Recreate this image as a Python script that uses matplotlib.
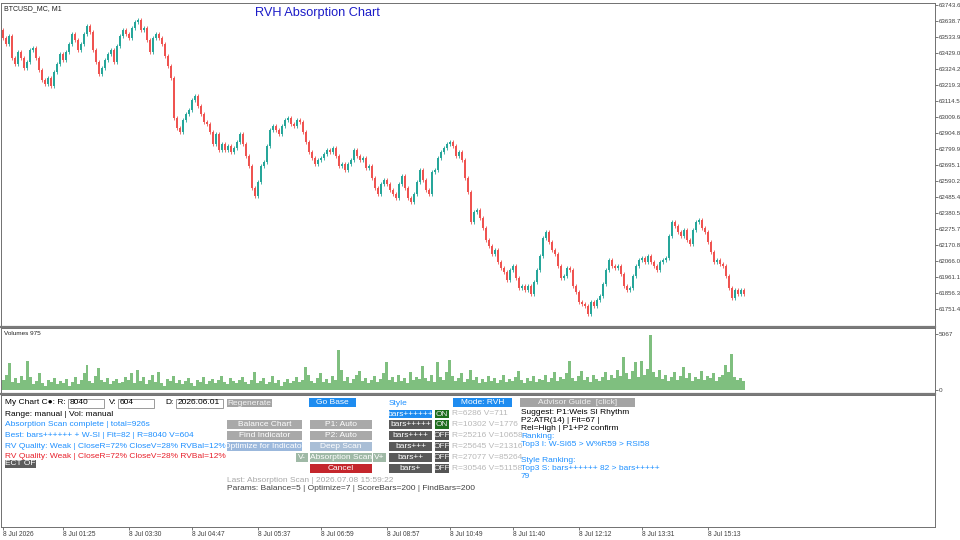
import matplotlib
matplotlib.use("Agg")
import matplotlib.pyplot as plt
from matplotlib.patches import Rectangle
import numpy as np

plt.rcParams['font.family'] = ['Liberation Sans', 'DejaVu Sans']

# --- data (BTCUSD_MC, M1) ---
first_open = 63580
closes = [
    # 0 .. 82
    63527, 63488, 63540, 63396, 63357, 63435, 63396, 63330, 63370, 63448,
    63461, 63396, 63317, 63252, 63226, 63265, 63212, 63304, 63357, 63422,
    63383, 63435, 63488, 63553, 63514, 63448, 63488, 63553, 63606, 63566,
    63448, 63370, 63291, 63330, 63383, 63422, 63448, 63370, 63475, 63540,
    63579, 63553, 63527, 63593, 63632, 63645, 63579, 63593, 63514, 63435,
    63527, 63553, 63527, 63488, 63409, 63344, 63265, 63003, 62937, 62911,
    62990, 63029, 63055, 63121, 63147, 63081, 63029, 62977, 62963, 62911,
    62832, 62898, 62793, 62832, 62793, 62819, 62780, 62806, 62845, 62898,
    62832, 62754, 62688,
    # 83 .. 163
    62544, 62492, 62583, 62688, 62714, 62819, 62924, 62950, 62924, 62898,
    62950, 62990, 63003, 62963, 62950, 62990, 62977, 62911, 62845, 62780,
    62741, 62701, 62728, 62741, 62767, 62793, 62780, 62806, 62754, 62688,
    62701, 62662, 62701, 62728, 62793, 62754, 62728, 62741, 62675, 62688,
    62610, 62544, 62505, 62570, 62596, 62570, 62531, 62505, 62479, 62570,
    62623, 62544, 62479, 62452, 62505, 62583, 62662, 62596, 62531, 62505,
    62649, 62662, 62741, 62780, 62806, 62832, 62845, 62819, 62754, 62780,
    62728, 62610, 62518, 62321, 62387, 62400, 62347, 62282, 62203, 62164,
    62112,
    # 164 .. 247
    62138, 62059, 62020, 61994, 61941, 62007, 62033, 61954, 61889, 61902,
    61876, 61902, 61849, 61928, 62007, 62098, 62216, 62256, 62190, 62138,
    62112, 62033, 61954, 61967, 62020, 62007, 61902, 61863, 61797, 61784,
    61771, 61718, 61797, 61771, 61810, 61836, 61915, 62007, 62072, 62033,
    62020, 62033, 61980, 61902, 61876, 61889, 61967, 62033, 62072, 62085,
    62059, 62098, 62059, 62033, 62007, 62059, 62072, 62085, 62229, 62321,
    62295, 62256, 62229, 62269, 62203, 62177, 62269, 62321, 62334, 62282,
    62256, 62190, 62125, 62059, 62072, 62046, 62033, 61967, 61889, 61823,
    61876, 61849, 61876, 61849,
]
volumes = [
    900, 1400, 2400, 700, 1100, 600, 1300, 900, 2600, 1200, 500, 800, 1500, 600, 400, 900, 700, 1100, 500, 800,
    600, 1000, 400, 700, 1200, 500, 900, 1500, 2300, 800, 600, 1300, 2000, 900, 700, 1100, 500, 800, 1000, 600,
    700, 1200, 900, 1500, 600, 1800, 800, 1200, 500, 900, 1400, 700, 1600, 600, 400, 1000, 800, 1300, 600, 900,
    500, 800, 1100, 600, 400, 900, 700, 1200, 500, 800, 1000, 600, 900, 1300, 700, 500, 1100, 800, 600, 900,
    1200, 700, 500, 900, 1600, 600, 800, 1100, 500, 700, 1300, 600, 900, 400, 700, 1000, 600, 800, 1200, 700,
    900, 2100, 1400, 800, 600, 1100, 1500, 700, 1000, 600, 1300, 900, 3600, 1800, 800, 1200, 600, 1000, 1400, 1700,
    800, 1100, 600, 900, 1300, 700, 1000, 1500, 2500, 900, 1200, 700, 1400, 800, 1100, 600, 1600, 900, 1200, 1000,
    2200, 1100, 800, 1400, 700, 2500, 1200, 900, 1600, 2700, 1300, 800, 1100, 1500, 700, 1000, 1800, 900, 1200, 600,
    1000, 700, 1300, 800, 1100, 600, 900, 1400, 700, 1000, 800, 1200, 1700, 900, 600, 1100, 800, 1300, 700, 1000,
    900, 1400, 700, 1100, 1600, 800, 1200, 1000, 1500, 2600, 1100, 800, 1300, 1700, 900, 1200, 700, 1400, 1000, 800,
    1200, 1600, 900, 1400, 1100, 1800, 1300, 3000, 1500, 1000, 1700, 2500, 1200, 2600, 1400, 1900, 5000, 1600, 1200, 1800,
    1000, 1400, 800, 1200, 1600, 900, 1300, 2100, 1100, 1500, 800, 1200, 1000, 1700, 900, 1300, 1100, 1500, 800, 1200,
    1400, 2300, 1600, 3300, 1200, 900, 1100, 800,
]
price_ticks = [63743.6, 63638.7, 63533.9, 63429.0, 63324.2, 63219.3, 63114.5,
               63009.6, 62904.8, 62799.9, 62695.1, 62590.2, 62485.4, 62380.5,
               62275.7, 62170.8, 62066.0, 61961.1, 61856.3, 61751.4]
vol_ticks = [0, 5067]
time_tick_bars = [0, 20, 42, 63, 85, 106, 128, 149, 170, 192, 213, 235]
time_labels = ['8 Jul 2026', '8 Jul 01:25', '8 Jul 03:30', '8 Jul 04:47',
               '8 Jul 05:37', '8 Jul 06:59', '8 Jul 08:57', '8 Jul 10:49',
               '8 Jul 11:40', '8 Jul 12:12', '8 Jul 13:31', '8 Jul 15:13']
style_names = ['bars++++++', 'bars+++++', 'bars++++', 'bars+++', 'bars++', 'bars+']
style_state = ['ON', 'ON', 'OFF', 'OFF', 'OFF', 'OFF']
style_stats = ['R=6286 V=711', 'R=10302 V=1776', 'R=25216 V=10658',
               'R=25645 V=21316', 'R=27077 V=85264', 'R=30546 V=51158']

UP, DOWN = '#26a69a', '#ef5350'
BLUE_TXT = '#1e90ff'
W, H = 960, 540

fig = plt.figure(figsize=(9.6, 5.4), dpi=100)
fig.patch.set_facecolor('white')


def fbox(x0, y0, x1, y1):
    return [x0 / W, 1 - y1 / H, (x1 - x0) / W, (y1 - y0) / H]


ax = fig.add_axes(fbox(1, 3, 935, 326))
axv = fig.add_axes(fbox(1, 328, 935, 393), sharex=ax)
axp = fig.add_axes(fbox(1, 395, 935, 527), sharex=ax)

# candles
c = np.array(closes, dtype=float)
o = np.r_[first_open, c[:-1]]
idx = np.arange(len(c))
cols = np.where(c >= o, UP, DOWN)
top = np.maximum(o, c)
bot = np.minimum(o, c)
wick = 14
ax.vlines(idx, bot - wick, top + wick, colors=cols, lw=0.6)
ax.bar(idx, np.maximum(top - bot, 6), bottom=bot, width=0.55, color=cols, lw=0)
ax.set_xlim(-0.667, 310.67)
ax.set_ylim(61640.1, 63756.7)
ax.yaxis.tick_right()
ax.set_yticks(price_ticks)
ax.set_yticklabels(['%.1f' % v for v in price_ticks])
ax.tick_params(axis='y', labelsize=4.4, length=2, width=0.5, pad=0.4,
               colors='#404040')
ax.tick_params(axis='x', bottom=False, labelbottom=False)
ax.text(0.003, 0.992, 'BTCUSD_MC, M1', transform=ax.transAxes, fontsize=5,
        va='top', ha='left', color='#202020')
ax.text(0.339, 0.987, 'RVH Absorption Chart', transform=ax.transAxes,
        fontsize=9.2, va='top', ha='center', color='#1c1cc8')

# volumes
axv.bar(idx, volumes, width=1.0, color='#7fbf7f', lw=0)
axv.set_ylim(-271, 5611)
axv.yaxis.tick_right()
axv.set_yticks(vol_ticks)
axv.set_yticklabels([str(v) for v in vol_ticks])
axv.tick_params(axis='y', labelsize=4.6, length=2, width=0.5, pad=0.4,
                colors='#404040')
axv.tick_params(axis='x', bottom=False, labelbottom=False)
axv.text(0.003, 0.95, 'Volumes 975', transform=axv.transAxes, fontsize=4.6,
         va='top', ha='left', color='#202020')

# bottom pane with time scale
axp.set_yticks([])
axp.set_xticks(time_tick_bars)
axp.set_xticklabels(time_labels, ha='left')
axp.tick_params(axis='x', labelsize=4.8, length=2.5, width=0.5, pad=0.6,
                colors='#404040')

for a in (ax, axv, axp):
    for s in a.spines.values():
        s.set_color('#707070')
        s.set_linewidth(0.7)

# overlay for the panel objects
ui = fig.add_axes([0, 0, 1, 1])
ui.set_xlim(0, W)
ui.set_ylim(H, 0)
ui.axis('off')
ui.patch.set_alpha(0)

ui.plot([0, 935], [326.5, 326.5], color='#7a7a7a', lw=1.6)
ui.plot([0, 935], [394, 394], color='#7a7a7a', lw=1.6)

FS = 6.0


def label(x, y, s, color='black', fs=FS, **kw):
    ui.text(x, y, s, color=color, fontsize=fs, va='center', ha='left', **kw)


def button(x0, y0, x1, y1, s, bg, fg='white', fs=FS):
    r = Rectangle((x0, y0), x1 - x0, y1 - y0, fc=bg, ec='none')
    ui.add_patch(r)
    t = ui.text((x0 + x1) / 2, (y0 + y1) / 2 + 0.3, s, color=fg, fontsize=fs,
                va='center', ha='center')
    t.set_clip_path(r)


def edit(x0, y0, x1, y1, s):
    ui.add_patch(Rectangle((x0, y0), x1 - x0, y1 - y0, fc='white',
                           ec='#8a8a8a', lw=0.6))
    label(x0 + 2, (y0 + y1) / 2, s)


# first row
label(5, 403, 'My Chart C\u25cf: R:')
edit(68, 398.5, 104, 407.5, '8040')
label(109, 403, 'V:')
edit(118, 398.5, 154, 407.5, '604')
label(165, 403, 'D:')
edit(176, 398.5, 223, 407.5, '2026.06.01')
button(227, 398.5, 272, 407, 'Regenerate', '#a4a4a4', '#f4f4f4')
button(309, 398, 356, 407, 'Go Base', '#1e8cf0')
label(389, 403.5, 'Style', BLUE_TXT)
button(453, 397.5, 512, 406.5, 'Mode: RVH', '#1e8cf0')
button(520, 398, 635, 407, 'Advisor Guide  [click]', '#a4a4a4', '#f0f0f0')

# status lines
label(5, 414.5, 'Range: manual | Vol: manual')
label(5, 425, 'Absorption Scan complete | total=926s', BLUE_TXT)
label(5, 435.5, 'Best: bars++++++ + W-SI | Fit=82 | R=8040 V=604', BLUE_TXT)
label(5, 446, 'RV Quality: Weak | CloseR=72% CloseV=28% RVBal=12%', BLUE_TXT)
label(5, 456, 'RV Quality: Weak | CloseR=72% CloseV=28% RVBal=12%', '#e8202a')
button(5, 459.5, 36, 467.5, 'ECT OF', '#5c5c5c')

# action buttons
button(227, 420, 302, 429, 'Balance Chart', '#a9a9a9')
button(227, 430.5, 302, 439.5, 'Find Indicator', '#a9a9a9')
button(227, 441.5, 302, 451, 'Optimize for Indicator', '#9bb8dc')
button(310, 420, 372, 429, 'P1: Auto', '#a9a9a9')
button(310, 430.5, 372, 439.5, 'P2: Auto', '#a9a9a9')
button(310, 441.5, 372, 451, 'Deep Scan', '#a9bed6')
button(296, 452.5, 308, 461.5, 'V-', '#9fb9a6')
button(310, 452.5, 372, 461.5, 'Absorption Scan', '#9fb9a6')
button(373, 452.5, 386, 461.5, 'V+', '#9fb9a6')
button(310, 463.5, 372, 472.5, 'Cancel', '#c4262c')

# style rows
for i, (name, state, stat) in enumerate(zip(style_names, style_state, style_stats)):
    y0 = 409.5 + i * 10.9
    button(389, y0, 432, y0 + 8.5, name, '#1e8cf0' if i == 0 else '#5a5a5a')
    button(435, y0, 449, y0 + 8.5, state,
           '#1e6e1e' if state == 'ON' else '#555555', '#e8e8e8')
    label(452, y0 + 4.4, stat, '#b8b8b8')

# advisor text
label(521, 412, 'Suggest: P1:Weis SI Rhythm')
label(521, 420.5, 'P2:ATR(14) | Fit=67 |')
label(521, 428.5, 'Rel=High | P1+P2 confirm')
label(521, 437, 'Ranking:', BLUE_TXT)
label(521, 445, 'Top3 I: W-SI65 > W%R59 > RSI58', BLUE_TXT)
label(521, 461, 'Style Ranking:', BLUE_TXT)
label(521, 469, 'Top3 S: bars++++++ 82 > bars+++++', BLUE_TXT)
label(521, 477, '79', BLUE_TXT)

label(227, 480, 'Last: Absorption Scan | 2026.07.08 15:59:22', '#a8a8a8')
label(227, 488.5, 'Params: Balance=5 | Optimize=7 | ScoreBars=200 | FindBars=200',
      '#404040')

fig.savefig('out.png', dpi=100)
